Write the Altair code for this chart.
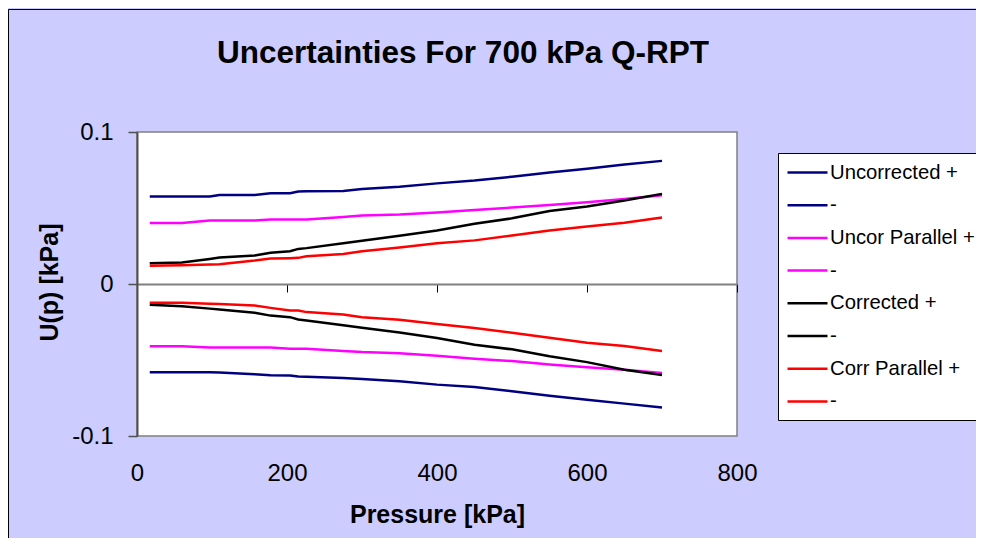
import altair as alt
import pandas as pd

pressure = [17, 60, 97, 110, 157, 178, 204, 215, 226, 275, 300, 350, 400, 450, 500, 550, 600, 650, 700]

uncorrected_pos = [0.0575, 0.0575, 0.0575, 0.0586, 0.0586, 0.0597, 0.0597, 0.0608, 0.0610, 0.0612, 0.0625, 0.0640,
                   0.0662, 0.0681, 0.0706, 0.0733, 0.0759, 0.0786, 0.0810]
uncorrected_neg = [-0.0581, -0.0581, -0.0581, -0.0582, -0.0593, -0.0600, -0.0602, -0.0608, -0.0610, -0.0619, -0.0625,
                   -0.0640, -0.0662, -0.0677, -0.0706, -0.0735, -0.0761, -0.0787, -0.0813]
uncor_par_pos = [0.0402, 0.0402, 0.0417, 0.0417, 0.0417, 0.0424, 0.0424, 0.0424, 0.0425, 0.0440, 0.0450, 0.0457,
                 0.0470, 0.0487, 0.0503, 0.0520, 0.0538, 0.0560, 0.0584]
uncor_par_neg = [-0.0409, -0.0409, -0.0417, -0.0417, -0.0417, -0.0417, -0.0426, -0.0426, -0.0426, -0.0440, -0.0448,
                 -0.0456, -0.0472, -0.0491, -0.0507, -0.0529, -0.0547, -0.0564, -0.0586]
corrected_pos = [0.0137, 0.0142, 0.0165, 0.0174, 0.0187, 0.0205, 0.0215, 0.0231, 0.0236, 0.0268, 0.0285, 0.0318,
                 0.0352, 0.0397, 0.0432, 0.0480, 0.0510, 0.0550, 0.0593]
corrected_neg = [-0.0137, -0.0147, -0.0162, -0.0168, -0.0189, -0.0208, -0.0218, -0.0233, -0.0240, -0.0272, -0.0288,
                 -0.0319, -0.0355, -0.0400, -0.0430, -0.0476, -0.0514, -0.0564, -0.0599]
corr_par_pos = [0.0120, 0.0124, 0.0128, 0.0130, 0.0154, 0.0168, 0.0170, 0.0172, 0.0183, 0.0198, 0.0216, 0.0240,
                0.0268, 0.0287, 0.0319, 0.0352, 0.0378, 0.0403, 0.0437]
corr_par_neg = [-0.0124, -0.0124, -0.0130, -0.0132, -0.0141, -0.0157, -0.0174, -0.0175, -0.0185, -0.0200, -0.0218,
                -0.0235, -0.0263, -0.0290, -0.0321, -0.0354, -0.0386, -0.0408, -0.0441]

series_names = ["Uncorrected +", "Uncorrected -", "Uncor Parallel +", "Uncor Parallel -",
                "Corrected +", "Corrected -", "Corr Parallel +", "Corr Parallel -"]
series_values = [uncorrected_pos, uncorrected_neg, uncor_par_pos, uncor_par_neg,
                 corrected_pos, corrected_neg, corr_par_pos, corr_par_neg]
series_colors = ["#000080", "#000080", "#FF00FF", "#FF00FF", "#000000", "#000000", "#FF0000", "#FF0000"]

x_ticks = [0, 200, 400, 600, 800]
y_ticks = [-0.1, 0, 0.1]

rows = []
for name, vals in zip(series_names, series_values):
    for p, v in zip(pressure, vals):
        rows.append({"Pressure": p, "U": v, "Series": name})
df = pd.DataFrame(rows)

FONT = "Liberation Sans"
W, H = 600, 304

lines = alt.Chart(df).mark_line(strokeWidth=2.5).encode(
    x=alt.X("Pressure:Q",
            scale=alt.Scale(domain=[0, 800], nice=False, zero=False),
            axis=alt.Axis(values=x_ticks, offset=-152, grid=False,
                          domainColor="#808080", domainWidth=2,
                          tickColor="#000000", tickSize=8, tickWidth=1,
                          labelFont=FONT, labelFontSize=24, labelColor="#000000",
                          labelPadding=169, labelFlush=False, labelOverlap=False,
                          title="Pressure [kPa]", titleFont=FONT, titleFontSize=25,
                          titleFontWeight="bold", titleColor="#000000",
                          titleX=300, titleY=238, titleBaseline="alphabetic",
                          titleAlign="center")),
    y=alt.Y("U:Q",
            scale=alt.Scale(domain=[-0.1, 0.1], nice=False, zero=False),
            axis=alt.Axis(values=y_ticks, labelExpr="toString(datum.value)", grid=False,
                          domainColor="#505050", domainWidth=2,
                          tickColor="#505050", tickSize=9, tickWidth=1.5,
                          labelFont=FONT, labelFontSize=24, labelColor="#000000",
                          labelPadding=15,
                          title="U(p) [kPa]", titleFont=FONT, titleFontSize=25,
                          titleFontWeight="bold", titleColor="#000000",
                          titleX=-80, titleY=150, titleAngle=270,
                          titleBaseline="alphabetic", titleAlign="center")),
    color=alt.Color("Series:N", sort=series_names,
                    scale=alt.Scale(domain=series_names, range=series_colors),
                    legend=alt.Legend(title=None, orient="none", legendX=641, legendY=21,
                                      fillColor="#FFFFFF", strokeColor="#000000",
                                      padding=8, symbolType="M-2,0H2", symbolSize=400,
                                      symbolStrokeWidth=2.5, symbolOffset=10,
                                      labelFont=FONT, labelFontSize=20.3, labelColor="#000000",
                                      labelOffset=11, rowPadding=10.7, labelLimit=400,
                                      labelExpr="slice(datum.label, -1) == '-' ? '-' : datum.label")),
)

frame = alt.Chart(alt.Data(values=[{}])).mark_rect(
    filled=False, stroke="#000000", strokeWidth=1
).encode(
    x=alt.value(-128.5), x2=alt.value(W + 300),
    y=alt.value(-122.5), y2=alt.value(H + 200),
)

chart = alt.layer(frame, lines).properties(
    width=W, height=H,
    title=alt.TitleParams("Uncertainties For 700 kPa Q-RPT", font=FONT, fontSize=31.5,
                          fontWeight="bold", color="#000000", anchor="middle",
                          frame="group", baseline="alphabetic", offset=0, dx=26, dy=85),
    autosize=alt.AutoSizeParams(type="none"),
    padding={"left": 129, "top": 124, "right": 239, "bottom": 102},
).configure(
    background="#CCCCFF"
).configure_view(
    fill="#FFFFFF", stroke="#808080", strokeWidth=1.5
)

chart.save("out.html", embed_options={"renderer": "svg", "actions": False})
